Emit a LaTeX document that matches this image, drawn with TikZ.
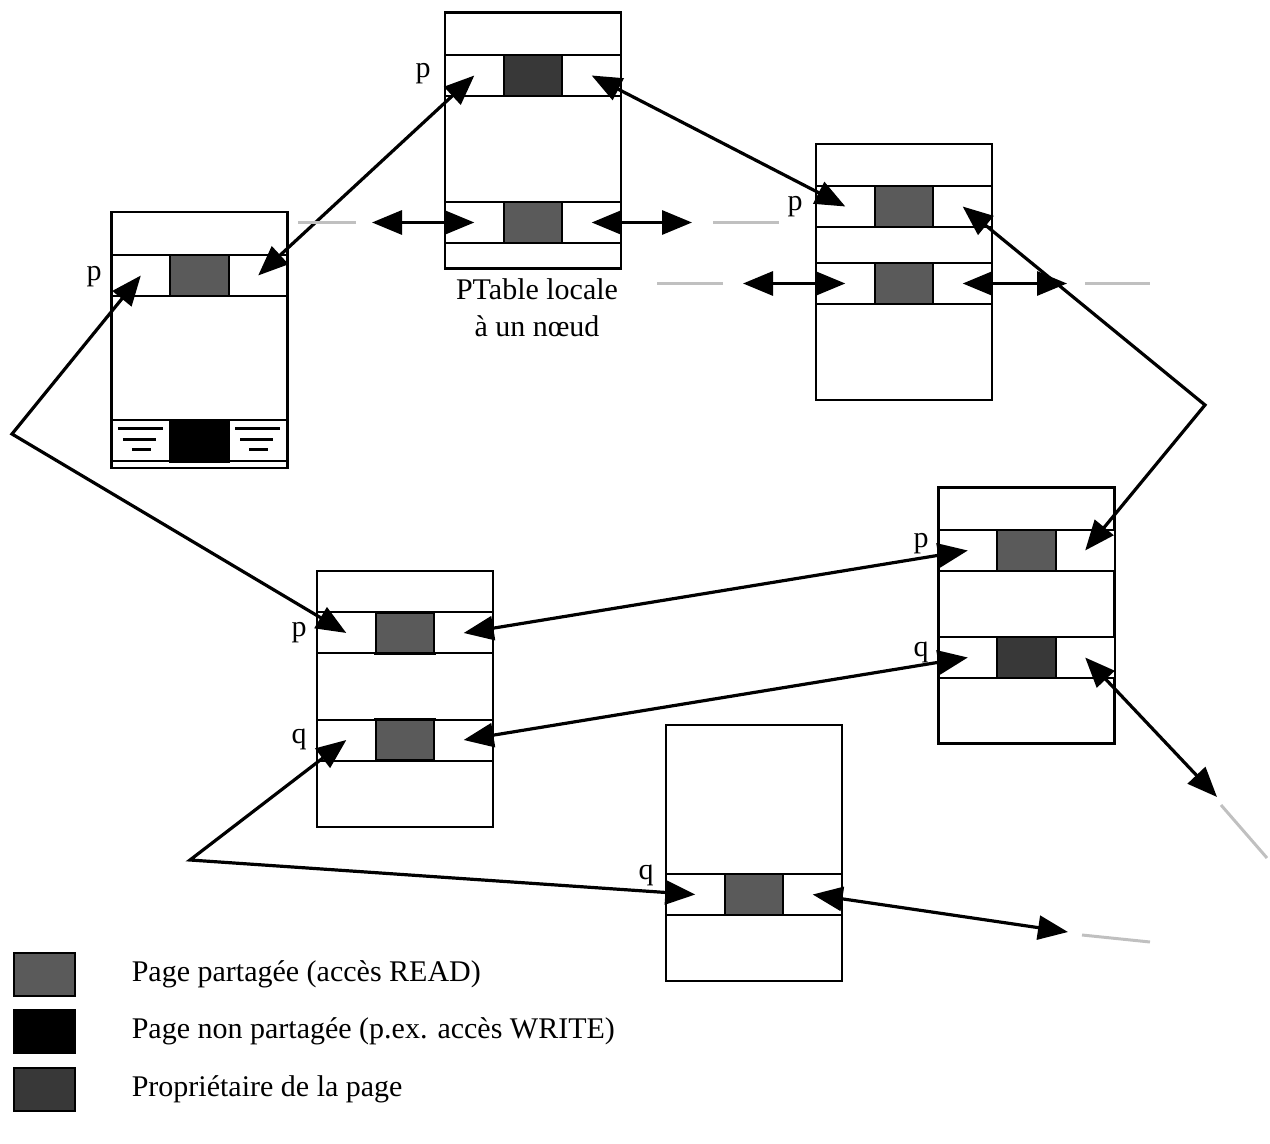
\documentclass[tikz,border=0pt]{standalone}
\usepackage{fontspec}
\setmainfont{Liberation Serif}
\usetikzlibrary{positioning,calc,arrows.meta}
\definecolor{pageshared}{HTML}{5A5A5A}
\definecolor{pageowner}{HTML}{383838}
\definecolor{stubgray}{HTML}{C0C0C0}
\tikzset{
  ptable/.style={draw,line width=1.4pt,minimum width=88pt,minimum height=128pt,inner sep=0pt,outer sep=0pt},
  cellbox/.style={draw,fill=white,line width=1pt,minimum width=29.33pt,minimum height=20.5pt,inner sep=0pt,outer sep=0pt},
  shared/.style={fill=pageshared,line width=1.2pt},
  owner/.style={fill=pageowner,line width=1.2pt},
  excl/.style={fill=black,line width=1.2pt},
  link/.style={line width=1.6pt,{Triangle[length=15pt,width=12pt]}-{Triangle[length=15pt,width=12pt]}},
  stub/.style={line width=1.5pt,draw=stubgray},
  lbl/.style={anchor=base,inner sep=0pt},
  legbox/.style={draw,line width=1.4pt,minimum width=30.5pt,minimum height=21.5pt,inner sep=0pt}
}
% one row of a PTable: left cell, page cell, right cell
\newcommand{\pagerow}[4]{%
  \node[cellbox,#4] (#1m) at (#2,#3) {};
  \node[cellbox,left=0pt of #1m] (#1l) {};
  \node[cellbox,right=0pt of #1m] (#1r) {};}

\begin{document}
\begin{tikzpicture}[x=0.5pt,y=-0.5pt,font=\fontsize{15}{15.5}\selectfont]
\useasboundingbox (0,0) rectangle (1270,1144);

% tables
\node[ptable] (tabA) at (199.5,340) {};
\node[ptable] (tabB) at (533,140.5) {};
\node[ptable] (tabC) at (904,272) {};
\node[ptable] (tabD) at (1026.5,615.5) {};
\node[ptable] (tabE) at (405,699) {};
\node[ptable] (tabF) at (754,853) {};

% rows
\pagerow{A1}{199.5}{275.5}{shared}
\pagerow{A2}{199.5}{441}{excl}
\pagerow{B1}{533}{75.5}{owner}
\pagerow{B2}{533}{222.5}{shared}
\pagerow{C1}{904}{206.5}{shared}
\pagerow{C2}{904}{283.5}{shared}
\pagerow{D1}{1026.5}{550.5}{shared}
\pagerow{D2}{1026.5}{657.5}{owner}
\pagerow{E1}{405}{633}{shared}
\pagerow{E2}{405}{740}{shared}
\pagerow{F1}{754}{894.5}{shared}

\foreach \c in {A2l,A2r} {
  \draw[line width=1.5pt] ($(\c.center)+(-23,-12)$) -- ++(45,0);
  \draw[line width=1.5pt] ($(\c.center)+(-18,-1)$) -- ++(33,0);
  \draw[line width=1.5pt] ($(\c.center)+(-9,9)$) -- ++(19,0);
}

% labels
\node[lbl] (pA) at (94,281) {p};
\node[lbl] (pB) at (423,78) {p};
\node[lbl] (pC) at (795,211) {p};
\node[lbl] (pD) at (921,548) {p};
\node[lbl] (qD) at (921,656) {q};
\node[lbl] (pE) at (299,637) {p};
\node[lbl] (qE) at (299,743) {q};
\node[lbl] (qF) at (646,879) {q};
\node[align=center,anchor=base,inner sep=0pt,font=\fontsize{15}{18.5}\selectfont] (caption) at (537,337) {PTable locale\\à un nœud};

% bends and free ends
\coordinate (cL) at (12,434);
\coordinate (cR) at (1205,405);
\coordinate (cB) at (190,860);
\coordinate (Bwest) at (372,222.5);
\coordinate (Beast) at (692,222.5);
\coordinate (Cwest) at (743,283.5);
\coordinate (Ceast) at (1067,283.5);
\coordinate (Fout) at (1068,932);
\coordinate (Dout) at (1217,797);

% links
\draw[link] (A1r.center) -- (B1l.center);
\draw[link] (B1r.center) -- (C1l.center);
\draw[link] (C1r.center) -- (cR) -- (D1r.center);
\draw[link] (A1l.center) -- (cL) -- (E1l.center);
\draw[link] (D1l.center) -- (E1r.center);
\draw[link] (D2l.center) -- (E2r.center);
\draw[link] (E2l.center) -- (cB) -- (F1l.center);
\draw[link] (F1r.center) -- (Fout);
\draw[link] (D2r.center) -- (Dout);
\draw[link] (B2l.center) -- (Bwest);
\draw[link] (B2r.center) -- (Beast);
\draw[link] (C2l.center) -- (Cwest);
\draw[link] (C2r.center) -- (Ceast);

% links to other nodes, not shown
\draw[stub] ($(Bwest)+(-16,0)$) -- ++(-58,0);
\draw[stub] ($(Beast)+(21,0)$) -- ++(66,0);
\draw[stub] ($(Cwest)+(-20,0)$) -- ++(-66,0);
\draw[stub] ($(Ceast)+(18,0)$) -- ++(65,0);
\draw[stub] ($(Fout)+(14,3)$) -- ++(68,7);
\draw[stub] ($(Dout)+(4,8)$) -- ++(46,53);

% legend
\node[legbox,fill=pageshared] (legShared) at (44.5,974.5) {};
\node[legbox,fill=black] (legExcl) at (44.5,1031.5) {};
\node[legbox,fill=pageowner] (legOwner) at (44.5,1089.5) {};
\node[right=27.5pt of legShared,inner sep=0pt] (txtShared) {Page partagée (accès READ)};
\node[right=27.5pt of legExcl,inner sep=0pt] (txtExcl) {Page non partagée (p.ex. accès WRITE)};
\node[right=27.5pt of legOwner,inner sep=0pt] (txtOwner) {Propriétaire de la page};
\end{tikzpicture}
\end{document}
